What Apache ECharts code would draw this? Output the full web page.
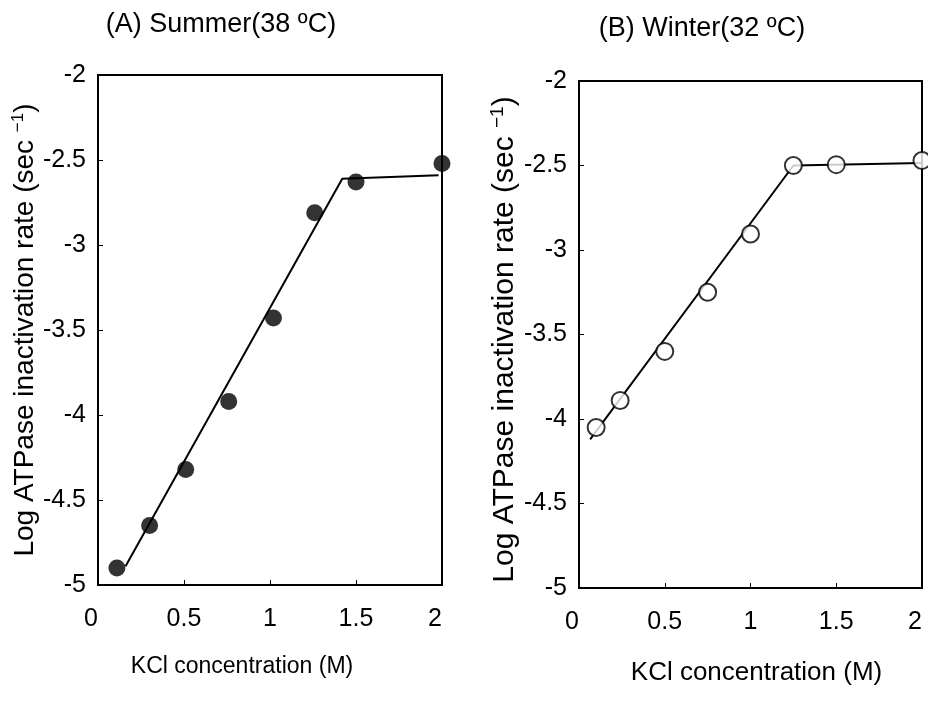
<!DOCTYPE html>
<html>
<head>
<meta charset="utf-8">
<script src="https://cdn.jsdelivr.net/npm/echarts@6/dist/echarts.min.js"></script>
<style>
html,body{margin:0;padding:0;background:#fff;}
#chart{width:928px;height:701px;}
</style>
</head>
<body>
<div id="chart"></div>
<script>
// ---- data ----
const titleA = '(A) Summer(38 ºC)';
const titleB = '(B) Winter(32 ºC)';
const xName = 'KCl concentration (M)';
const yNameMain = 'Log ATPase inactivation rate (sec ';
const yNameSup = '−1';

// Panel A (summer) measured points
const summerKCl = [0.11, 0.30, 0.51, 0.76, 1.02, 1.26, 1.50, 2.00];
const summerRate = [-4.90, -4.65, -4.32, -3.92, -3.43, -2.81, -2.63, -2.52];
// Panel A fitted line
const summerFitKCl = [0.16, 1.42, 1.98];
const summerFitRate = [-4.89, -2.61, -2.59];

// Panel B (winter) measured points
const winterKCl = [0.10, 0.24, 0.50, 0.75, 1.00, 1.25, 1.50, 2.00];
const winterRate = [-4.05, -3.89, -3.60, -3.25, -2.905, -2.50, -2.495, -2.47];
// Panel B fitted line
const winterFitKCl = [0.065, 1.25, 2.00];
const winterFitRate = [-4.12, -2.50, -2.485];

const xMin = 0, xMax = 2, xStep = 0.5;
const yMin = -5, yMax = -2, yStep = 0.5;

const zip = (a, b) => a.map((v, i) => [v, b[i]]);

const FONT = 'Liberation Sans, Arial, sans-serif';

function xAxisCfg(gridIndex, nameFs, nameGap, namePad) {
  return {
    type: 'value', gridIndex, min: xMin, max: xMax, interval: xStep,
    name: xName, nameLocation: 'middle', nameGap: nameGap,
    nameTextStyle: {color: '#000', fontSize: nameFs, fontFamily: FONT, padding: namePad},
    axisLine: {show: true, lineStyle: {color: '#000', width: 2}},
    axisTick: {show: true, inside: true, length: 5, lineStyle: {color: '#000', width: 1}},
    axisLabel: {color: '#000', fontSize: 25, fontFamily: FONT, margin: 22,
                alignMinLabel: 'right', alignMaxLabel: 'right'},
    splitLine: {show: false}
  };
}
function yAxisCfg(gridIndex, nameFs, nameGap, namePad) {
  return {
    type: 'value', gridIndex, min: yMin, max: yMax, interval: yStep,
    name: yNameMain + '{sup|' + yNameSup + '})', nameLocation: 'middle', nameGap: nameGap,
    nameTextStyle: {color: '#000', fontSize: nameFs, fontFamily: FONT, padding: namePad,
      rich: {sup: {fontSize: Math.round(nameFs * 0.62), fontFamily: FONT, color: '#000', padding: [0, 0, Math.round(nameFs*0.5), 0]}}},
    axisLine: {show: true, lineStyle: {color: '#000', width: 2}},
    axisTick: {show: true, inside: true, length: 5, lineStyle: {color: '#000', width: 1}},
    axisLabel: {color: '#000', fontSize: 25, fontFamily: FONT, margin: 12},
    splitLine: {show: false}
  };
}

const chart = echarts.init(document.getElementById('chart'), null, {renderer: 'canvas'});
chart.setOption({
  backgroundColor: '#fff',
  animation: false,
  title: [
    {text: titleA, left: 216, top: 6, textAlign: 'center',
     textStyle: {color: '#000', fontSize: 27, fontWeight: 'normal', fontFamily: FONT}},
    {text: titleB, left: 697, top: 10, textAlign: 'center',
     textStyle: {color: '#000', fontSize: 27, fontWeight: 'normal', fontFamily: FONT}}
  ],
  grid: [
    {left: 98, top: 75, width: 344, height: 510, show: true, borderColor: '#000', borderWidth: 2, backgroundColor: 'transparent'},
    {left: 579, top: 81, width: 343, height: 507, show: true, borderColor: '#000', borderWidth: 2, backgroundColor: 'transparent'}
  ],
  xAxis: [xAxisCfg(0, 23, 70, [0, 56, 0, 0]), xAxisCfg(1, 26, 72, [0, 0, 0, 12])],
  yAxis: [yAxisCfg(0, 28, 57, [0, 0, 0, 0]), yAxisCfg(1, 30, 42, [0, 10, 0, 0])],
  series: [
    {type: 'line', xAxisIndex: 0, yAxisIndex: 0, data: zip(summerFitKCl, summerFitRate),
     showSymbol: false, symbol: 'none', lineStyle: {color: '#000', width: 2}, z: 2},
    {type: 'scatter', xAxisIndex: 0, yAxisIndex: 0, data: zip(summerKCl, summerRate),
     symbol: 'circle', symbolSize: 17, itemStyle: {color: '#000'}, clip: false, z: 3},
    {type: 'line', xAxisIndex: 1, yAxisIndex: 1, data: zip(winterFitKCl, winterFitRate),
     showSymbol: false, symbol: 'none', lineStyle: {color: '#000', width: 2}, z: 2},
    {type: 'scatter', xAxisIndex: 1, yAxisIndex: 1, data: zip(winterKCl, winterRate),
     symbol: 'circle', symbolSize: 17, itemStyle: {color: '#fff', borderColor: '#000', borderWidth: 2}, clip: false, z: 3}
  ]
});
</script>
</body>
</html>
